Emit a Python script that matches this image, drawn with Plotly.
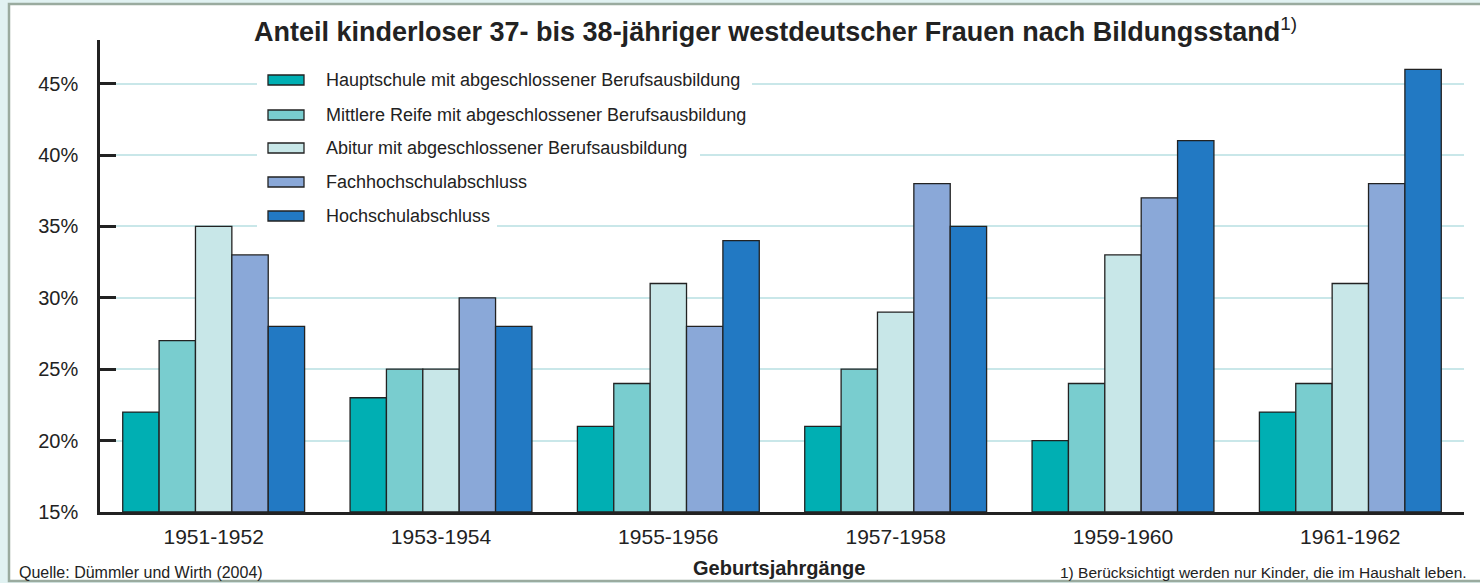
import plotly.graph_objects as go

categories = ["1951-1952", "1953-1954", "1955-1956", "1957-1958", "1959-1960", "1961-1962"]
series_names = [
    "Hauptschule mit abgeschlossener Berufsausbildung",
    "Mittlere Reife mit abgeschlossener Berufsausbildung",
    "Abitur mit abgeschlossener Berufsausbildung",
    "Fachhochschulabschluss",
    "Hochschulabschluss",
]
hauptschule = [22, 23, 21, 21, 20, 22]
mittlere_reife = [27, 25, 24, 25, 24, 24]
abitur = [35, 25, 31, 29, 33, 31]
fachhochschule = [33, 30, 28, 38, 37, 38]
hochschule = [28, 28, 34, 35, 41, 46]
y_ticks = [15, 20, 25, 30, 35, 40, 45]

colors = ["#00afb3", "#79cdcf", "#c8e7e8", "#8aa8d8", "#2279c3"]
values = [hauptschule, mittlere_reife, abitur, fachhochschule, hochschule]

FONT = "Liberation Sans, Arial, sans-serif"
TXT = "#222222"

fig = go.Figure()
for name, vals, col in zip(series_names, values, colors):
    fig.add_trace(go.Bar(
        x=categories, y=[v - 15 for v in vals], base=15, name=name,
        marker=dict(color=col, line=dict(color="#222222", width=1.3)),
        customdata=vals,
        hovertemplate="%{x}: %{customdata}%<extra>" + name + "</extra>",
        showlegend=False,
    ))

W, H = 1480, 583
L, R, T, B = 100, 16, 40, 71
pw = W - L - R
ph = H - T - B


def px2x(px):
    return (px - L) / pw


def py2y(py):
    return (H - B - py) / ph


shapes = [
    dict(type="rect", xref="paper", yref="paper",
         x0=px2x(9), x1=px2x(1495), y0=py2y(581), y1=py2y(4),
         fillcolor="#ffffff", line=dict(color="#9aab9f", width=2.5),
         layer="below"),
]
annotations = []

# custom legend (wide flat swatches, white background behind each row)
row_centers = [80, 115, 148, 182, 216]
row_ends = [752, 756, 700, 538, 497]
for i, (name, col) in enumerate(zip(series_names, colors)):
    cy = row_centers[i]
    shapes.append(dict(type="rect", xref="paper", yref="paper",
                       x0=px2x(257), x1=px2x(row_ends[i]),
                       y0=py2y(cy + 17), y1=py2y(cy - 17),
                       fillcolor="#ffffff", line=dict(width=0),
                       layer="above"))
for i, (name, col) in enumerate(zip(series_names, colors)):
    cy = row_centers[i]
    shapes.append(dict(type="rect", xref="paper", yref="paper",
                       x0=px2x(268), x1=px2x(304),
                       y0=py2y(cy + 5), y1=py2y(cy - 5),
                       fillcolor=col, line=dict(color="#222222", width=1.3),
                       layer="above"))
    annotations.append(dict(text=name, xref="paper", yref="paper",
                            x=px2x(324), y=py2y(cy), xanchor="left", yanchor="middle",
                            showarrow=False,
                            font=dict(size=18, family=FONT, color=TXT)))

annotations += [
    dict(text="<b>Anteil kinderloser 37- bis 38-jähriger westdeutscher Frauen nach Bildungsstand</b>"
              "<sup>1)</sup>",
         xref="paper", yref="paper", x=px2x(775), y=py2y(30),
         xanchor="center", yanchor="middle", showarrow=False,
         font=dict(size=27, family=FONT, color=TXT)),
    dict(text="<b>Geburtsjahrgänge</b>",
         xref="paper", yref="paper", x=px2x(779), y=py2y(568),
         xanchor="center", yanchor="middle", showarrow=False,
         font=dict(size=20, family=FONT, color=TXT)),
    dict(text="Quelle: Dümmler und Wirth (2004)",
         xref="paper", yref="paper", x=px2x(17), y=py2y(572),
         xanchor="left", yanchor="middle", showarrow=False,
         font=dict(size=16, family=FONT, color=TXT)),
    dict(text="1) Berücksichtigt werden nur Kinder, die im Haushalt leben.",
         xref="paper", yref="paper", x=px2x(1469), y=py2y(572),
         xanchor="right", yanchor="middle", showarrow=False,
         font=dict(size=15.5, family=FONT, color=TXT)),
]

fig.update_layout(
    width=W, height=H,
    margin=dict(l=L, r=R, t=T, b=B, pad=0),
    paper_bgcolor="#e1f2f2",
    plot_bgcolor="rgba(0,0,0,0)",
    barmode="group",
    bargap=0.2,
    bargroupgap=0,
    font=dict(family=FONT, color=TXT),
    showlegend=False,
    xaxis=dict(
        range=[-0.5, 5.5],
        showline=True, linecolor="#222222", linewidth=3,
        ticks="", showgrid=False,
        tickfont=dict(size=21, family=FONT, color=TXT),
        ticklabelstandoff=4,
        fixedrange=True,
    ),
    yaxis=dict(
        range=[15, 15 + (H - B - T) / (71.4 / 5)],
        tickvals=y_ticks,
        ticktext=[f"{v}%" for v in y_ticks],
        showline=True, linecolor="#222222", linewidth=2.5,
        ticks="inside", ticklen=16, tickwidth=2.5, tickcolor="#222222",
        showgrid=True, gridcolor="#c9e7e9", gridwidth=2,
        zeroline=False,
        tickfont=dict(size=20, family=FONT, color=TXT),
        ticklabelstandoff=15,
        fixedrange=True,
    ),
    shapes=shapes,
    annotations=annotations,
)

fig.write_html("out.html", config={"displayModeBar": False},
               post_script="document.body.style.margin='0';document.body.style.padding='0';")
